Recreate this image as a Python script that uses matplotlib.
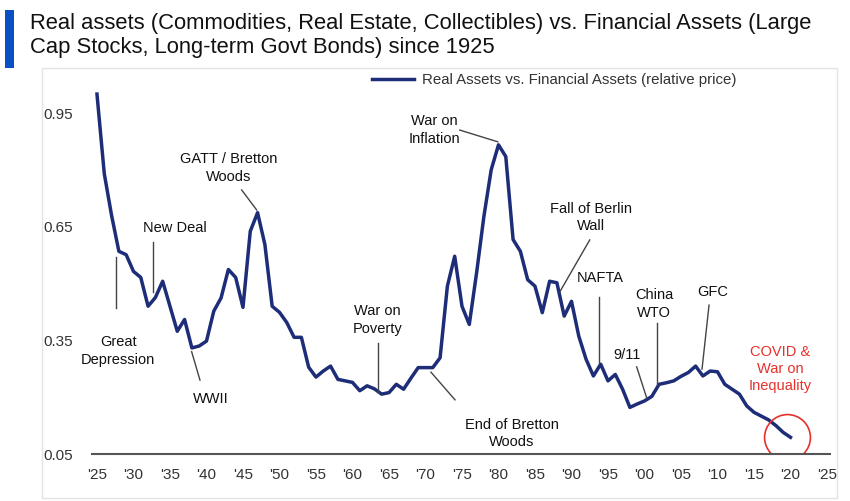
import matplotlib
matplotlib.use("Agg")
import matplotlib.pyplot as plt
from matplotlib.patches import Rectangle

plt.rcParams['font.family'] = ['Liberation Sans', 'DejaVu Sans']

# relative price of real vs financial assets, one value per year
years = list(range(1925, 2021))
ratio = [
    1.00, 0.79, 0.68, 0.585, 0.576, 0.532, 0.516, 0.44, 0.463, 0.506,
    0.44, 0.374, 0.405, 0.33, 0.335, 0.348, 0.427, 0.462, 0.537, 0.516,
    0.437, 0.638, 0.687, 0.603, 0.44, 0.424, 0.397, 0.358, 0.358, 0.279,
    0.253, 0.269, 0.282, 0.247, 0.243, 0.239, 0.217, 0.23, 0.222, 0.208,
    0.212, 0.234, 0.221, 0.25, 0.278, 0.278, 0.278, 0.304, 0.493, 0.572,
    0.44, 0.392, 0.528, 0.677, 0.80, 0.866, 0.835, 0.616, 0.585, 0.51,
    0.493, 0.423, 0.506, 0.502, 0.414, 0.453, 0.361, 0.30, 0.256, 0.287,
    0.243, 0.26, 0.221, 0.173, 0.182, 0.19, 0.202, 0.234, 0.238, 0.243,
    0.255, 0.265, 0.282, 0.256, 0.269, 0.267, 0.234, 0.221, 0.208, 0.177,
    0.16, 0.15, 0.14, 0.125, 0.107, 0.094,
]

xticks = list(range(1925, 2026, 5))
xlabels = ["'" + str(y)[2:] for y in xticks]
yticks = [0.05, 0.35, 0.65, 0.95]
ylabels = ['0.05', '0.35', '0.65', '0.95']

title_lines = ["Real assets (Commodities, Real Estate, Collectibles) vs. Financial Assets (Large",
               "Cap Stocks, Long-term Govt Bonds) since 1925"]
legend_label = 'Real Assets vs. Financial Assets (relative price)'

# event labels: text, text position, leader line (x0, y0, x1, y1)
events = [
    ('Great\nDepression', (1927.9, 0.322), (1927.56, 0.571, 1927.56, 0.435)),
    ('New Deal', (1935.7, 0.646), (1932.7, 0.610, 1932.7, 0.478)),
    ('WWII', (1940.6, 0.195), (1937.97, 0.320, 1939.11, 0.245)),
    ('GATT / Bretton\nWoods', (1943.0, 0.805), (1944.82, 0.747, 1946.88, 0.694)),
    ('War on\nPoverty', (1963.4, 0.404), (1963.45, 0.343, 1963.45, 0.214)),
    ('End of Bretton\nWoods', (1981.85, 0.105), (1970.75, 0.266, 1974.04, 0.193)),
    ('War on\nInflation', (1971.2, 0.905), (1974.7, 0.905, 1979.9, 0.874)),
    ('Fall of Berlin\nWall', (1992.7, 0.675), (1992.5, 0.615, 1988.4, 0.478)),
    ('NAFTA', (1994.0, 0.515), (1993.77, 0.465, 1993.77, 0.290)),
    ('9/11', (1997.6, 0.311), (1998.93, 0.280, 2000.3, 0.198)),
    ('China\nWTO', (2001.3, 0.446), (2001.67, 0.396, 2001.67, 0.232)),
    ('GFC', (2009.4, 0.478), (2008.84, 0.443, 2007.88, 0.274)),
]
covid_text = 'COVID &\nWar on\nInequality'

navy = '#1d2d78'
red = '#e8302a'

fig = plt.figure(figsize=(8.5, 5.01), dpi=100)

# frame around the chart and the blue bar next to the title
fig.patches.append(Rectangle((42 / 850, 1 - 498 / 501), 795 / 850, 430 / 501,
                             transform=fig.transFigure, fill=False,
                             edgecolor='#e4e4e4', lw=1.0))
fig.patches.append(Rectangle((5 / 850, 1 - 68 / 501), 9 / 850, 58 / 501,
                             transform=fig.transFigure, color='#0a4fc4', lw=0))
fig.text(30 / 850, 1 - 29 / 501, title_lines[0], fontsize=15.8, va='baseline',
         ha='left', color='#111111')
fig.text(30 / 850, 1 - 53 / 501, title_lines[1], fontsize=15.8, va='baseline',
         ha='left', color='#111111')

ax = fig.add_axes([92 / 850, 47 / 501, 738 / 850, 367.5 / 501])
line, = ax.plot(years, ratio, color=navy, lw=2.5, solid_joinstyle='round',
                label=legend_label)

ax.set_xlim(1924.32, 2025.41)
ax.set_ylim(0.05, 1.02)
ax.set_xticks(xticks)
ax.set_xticklabels(xlabels)
ax.set_yticks(yticks)
ax.set_yticklabels(ylabels)
ax.tick_params(axis='both', length=0, labelsize=11, colors='#333333')
ax.tick_params(axis='x', pad=10)
ax.tick_params(axis='y', pad=14)
for s in ['top', 'right', 'left']:
    ax.spines[s].set_visible(False)
ax.spines['bottom'].set_color('#555555')
ax.spines['bottom'].set_linewidth(1.5)

for txt, (tx, ty), seg in events:
    ax.text(tx, ty, txt, ha='center', va='center', fontsize=10.5,
            linespacing=1.3, color='#111111')
    ax.plot([seg[0], seg[2]], [seg[1], seg[3]], color='#444444', lw=1.0)

ax.text(2018.6, 0.274, covid_text, ha='center', va='center', fontsize=10.5,
        linespacing=1.3, color=red)
ax.plot([years[-1] - 0.5], [ratio[-1] + 0.002], marker='o', markersize=33,
        mfc='none', mec=red, mew=1.2)

fig.legend(handles=[line], loc='center left', bbox_to_anchor=(372 / 850, 1 - 80 / 501),
           frameon=False, fontsize=10.8, handlelength=2.8, handletextpad=0.5,
           borderpad=0, borderaxespad=0, labelcolor='#333333')

fig.savefig('out.png', dpi=100)
